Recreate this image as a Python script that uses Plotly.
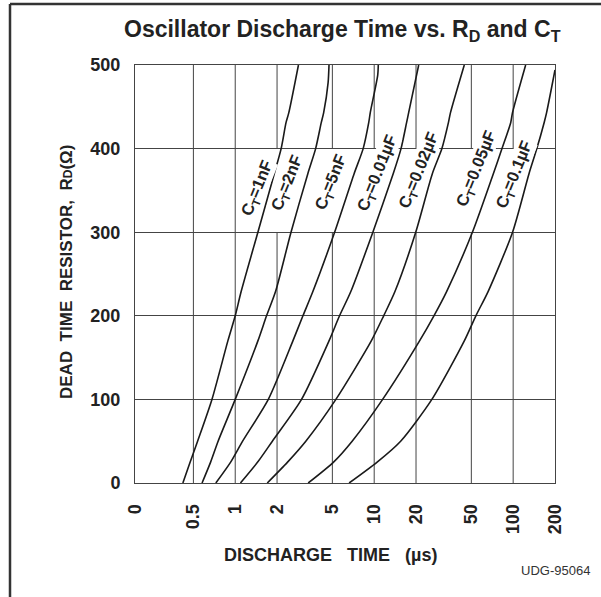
import math
import plotly.graph_objects as go

# ---------------- data ----------------
SERIES = ["1nF", "2nF", "5nF", "0.01µF", "0.02µF", "0.05µF", "0.1µF"]

R_1nF = [0, 25, 50, 100, 170, 200, 229, 300, 370, 400, 431, 443, 500]
T_1nF = [0.42, 0.474, 0.536, 0.68, 0.885, 1.0, 1.103, 1.456, 1.91, 2.14, 2.32, 2.43, 2.85]

R_2nF = [0, 25, 50, 100, 170, 200, 229, 300, 370, 400, 431, 443, 479, 500]
T_2nF = [0.577, 0.665, 0.753, 1.0, 1.456, 1.68, 1.95, 2.52, 3.33, 3.79, 4.16, 4.33, 4.66, 4.73]

R_5nF = [0, 25, 50, 100, 170, 200, 229, 300, 370, 400, 431, 443, 488, 500]
T_5nF = [0.725, 0.927, 1.13, 1.73, 2.60, 3.07, 3.62, 5.19, 7.17, 8.33, 9.13, 9.37, 10.6, 10.7]

R_10nF = [0, 25, 50, 100, 170, 200, 229, 300, 370, 400, 431, 443, 500]
T_10nF = [1.09, 1.45, 1.85, 3.0, 4.73, 5.63, 6.79, 9.78, 13.7, 15.6, 17.1, 17.7, 20.9]

R_20nF = [0, 25, 50, 100, 170, 200, 229, 300, 370, 400, 431, 443, 500]
T_20nF = [1.70, 2.38, 3.22, 5.3, 9.53, 11.7, 14.1, 19.9, 26.2, 30.7, 34.2, 35.4, 44.5]

R_50nF = [0, 25, 50, 100, 170, 200, 229, 300, 370, 400, 431, 443, 500]
T_50nF = [3.35, 5.1, 6.94, 11.5, 21.2, 26.9, 33.2, 50.9, 72, 83.1, 96, 98.9, 123]

R_100nF = [0, 25, 50, 100, 170, 200, 229, 300, 370, 400, 431, 443, 494]
T_100nF = [6.6, 10.5, 15.5, 26.0, 44.5, 53.9, 66, 99, 130, 148, 167, 174, 200]

R_DATA = [R_1nF, R_2nF, R_5nF, R_10nF, R_20nF, R_50nF, R_100nF]
T_DATA = [T_1nF, T_2nF, T_5nF, T_10nF, T_20nF, T_50nF, T_100nF]

X_TICKVALS = [0.19, 0.5, 1, 2, 5, 10, 20, 50, 100, 200]
X_TICKTEXT = ["0", "0.5", "1", "2", "5", "10", "20", "50", "100", "200"]
Y_TICKVALS = [0, 100, 200, 300, 400, 500]
X_GRID_FULL = [0.5, 1]
X_GRID_SPLIT = [2, 5, 10, 20, 50, 100]
LABEL_BAND = [300, 400]

# label centre positions (paper coords)
LABEL_POS = [(0.291, 0.706), (0.362, 0.718), (0.467, 0.720), (0.577, 0.742),
             (0.677, 0.748), (0.812, 0.752), (0.903, 0.737)]

FONT = "Liberation Sans, Arial, Helvetica, sans-serif"
INK = "#222222"
GRID = "#444444"

fig = go.Figure()

for name, rr, tt in zip(SERIES, R_DATA, T_DATA):
    fig.add_trace(go.Scatter(
        x=tt, y=rr, mode="lines", name=name,
        line=dict(color="#1a1a1a", width=1.6, shape="spline", smoothing=0.7),
        showlegend=False, hoverinfo="skip"))

shapes = []
for v in X_GRID_FULL:
    shapes.append(dict(type="line", xref="x", yref="y", x0=v, x1=v,
                       y0=0, y1=500, line=dict(color=GRID, width=1), layer="below"))
for v in X_GRID_SPLIT:
    shapes.append(dict(type="line", xref="x", yref="y", x0=v, x1=v,
                       y0=0, y1=LABEL_BAND[0], line=dict(color=GRID, width=1), layer="below"))
    shapes.append(dict(type="line", xref="x", yref="y", x0=v, x1=v,
                       y0=LABEL_BAND[1], y1=500, line=dict(color=GRID, width=1), layer="below"))

# outer frame (top and left edges)
fx0 = (10 - 135) / 420
fx1 = (601 - 135) / 420
fy_top = (483 - 4) / 418
fy_bot = (483 - 597) / 418
shapes.append(dict(type="line", xref="paper", yref="paper", x0=fx0, x1=fx1, y0=fy_top, y1=fy_top,
                   line=dict(color="#333333", width=2.5)))
shapes.append(dict(type="line", xref="paper", yref="paper", x0=fx0, x1=fx0, y0=fy_top, y1=fy_bot,
                   line=dict(color="#333333", width=2.5)))

annotations = []
for name, (px, py) in zip(SERIES, LABEL_POS):
    annotations.append(dict(
        text="<b>C<sub>T</sub>=" + name + "</b>", xref="paper", yref="paper", x=px, y=py,
        xanchor="center", yanchor="middle",
        showarrow=False, textangle=-68, bgcolor="white", borderpad=0,
        font=dict(family=FONT, size=16.5, color=INK)))

annotations.append(dict(
    text="<b>DISCHARGE\u00a0\u00a0\u00a0TIME\u00a0\u00a0\u00a0(µs)</b>", xref="paper", yref="paper",
    x=(330 - 135) / 420, y=(483 - 555) / 418, showarrow=False, xanchor="center", yanchor="middle",
    font=dict(family=FONT, size=18, color=INK)))
annotations.append(dict(
    text="<b>DEAD\u00a0\u00a0TIME\u00a0\u00a0RESISTOR,\u00a0\u00a0R<span style='font-size:12px'>D</span>(Ω)</b>",
    xref="paper", yref="paper", x=(66 - 135) / 420, y=(483 - 272) / 418, showarrow=False,
    textangle=-90, xanchor="center", yanchor="middle",
    font=dict(family=FONT, size=17, color=INK)))
annotations.append(dict(
    text="UDG-95064", xref="paper", yref="paper", x=(592 - 135) / 420, y=(483 - 570) / 418,
    showarrow=False, xanchor="right", yanchor="middle",
    font=dict(family=FONT, size=13, color="#333333")))
annotations.append(dict(
    text="<b>Oscillator Discharge Time vs. R<sub>D</sub> and C<sub>T</sub></b>",
    xref="paper", yref="paper", x=(342 - 135) / 420, y=(483 - 31) / 418, showarrow=False,
    xanchor="center", yanchor="middle",
    font=dict(family=FONT, size=23, color=INK)))

fig.update_layout(
    width=601, height=597,
    margin=dict(l=135, r=46, t=65, b=114),
    paper_bgcolor="white", plot_bgcolor="white",
    shapes=shapes, annotations=annotations,
    xaxis=dict(type="log", range=[math.log10(0.19), math.log10(200)],
               tickvals=X_TICKVALS, ticktext=["<b>" + t + "</b>" for t in X_TICKTEXT],
               tickangle=-90, ticks="", showgrid=False, zeroline=False,
               showline=True, mirror=True, linecolor=GRID, linewidth=1,
               ticklabelstandoff=13,
               tickfont=dict(family=FONT, size=18, color=INK)),
    yaxis=dict(range=[0, 500], tickvals=Y_TICKVALS, ticktext=["<b>%d</b>" % v for v in Y_TICKVALS],
               ticks="", showgrid=True, gridcolor=GRID, gridwidth=1, zeroline=False,
               showline=True, mirror=True, linecolor=GRID, linewidth=1,
               ticklabelstandoff=10,
               tickfont=dict(family=FONT, size=18, color=INK)),
)

fig.write_html("out.html", config={"displayModeBar": False},
               post_script="document.body.style.margin='0';")
